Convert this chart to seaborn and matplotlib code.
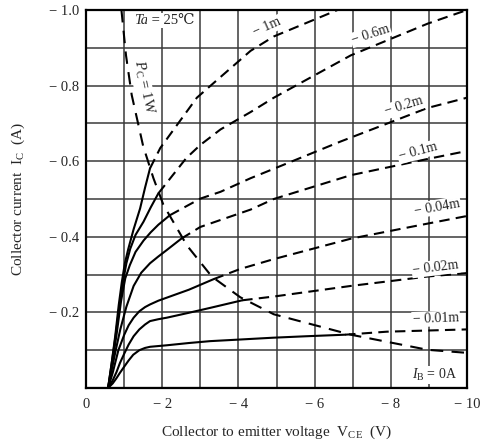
import numpy as np
import pandas as pd
import matplotlib
matplotlib.use("Agg")
import matplotlib.pyplot as plt
import seaborn as sns

# ---------------- data (magnitudes; axes are negative) -------------
curve_names = ["-0.01m", "-0.02m", "-0.04m", "-0.1m", "-0.2m", "-0.6m", "-1m"]

# solid part (below the Pc = 1 W curve)
solid_v = {
    "-0.01m": [0.58, 0.7, 0.8, 0.89, 1.0, 1.12, 1.24, 1.4, 1.55, 1.68, 1.9, 2.12, 2.7, 3.26, 4.0, 4.9, 5.8, 6.8],
    "-0.02m": [0.58, 0.7, 0.8, 0.89, 1.0, 1.12, 1.25, 1.4, 1.55, 1.68, 1.9, 2.12, 2.7, 3.26, 4.1],
    "-0.04m": [0.58, 0.7, 0.85, 1.0, 1.12, 1.25, 1.4, 1.55, 1.68, 1.9, 2.12, 2.7, 3.35],
    "-0.1m":  [0.58, 0.68, 0.78, 0.9, 1.06, 1.25, 1.45, 1.68, 1.9, 2.12, 2.5],
    "-0.2m":  [0.58, 0.68, 0.8, 0.92, 1.03, 1.15, 1.3, 1.51, 1.7, 1.9, 2.2],
    "-0.6m":  [0.58, 0.68, 0.78, 0.88, 0.97, 1.06, 1.16, 1.3, 1.51, 1.7, 1.9],
    "-1m":    [0.58, 0.68, 0.77, 0.86, 0.94, 1.02, 1.11, 1.25, 1.42, 1.55, 1.68],
}
solid_i = {
    "-0.01m": [0.0, 0.012, 0.026, 0.04, 0.056, 0.073, 0.088, 0.1, 0.106, 0.109, 0.111, 0.113, 0.119, 0.124, 0.128, 0.133, 0.137, 0.141],
    "-0.02m": [0.0, 0.02, 0.042, 0.066, 0.09, 0.115, 0.137, 0.155, 0.168, 0.177, 0.182, 0.186, 0.199, 0.212, 0.232],
    "-0.04m": [0.0, 0.04, 0.10, 0.14, 0.166, 0.186, 0.203, 0.214, 0.221, 0.231, 0.239, 0.26, 0.288],
    "-0.1m":  [0.0, 0.05, 0.1, 0.155, 0.215, 0.27, 0.305, 0.33, 0.348, 0.365, 0.395],
    "-0.2m":  [0.0, 0.06, 0.14, 0.23, 0.29, 0.325, 0.36, 0.39, 0.412, 0.432, 0.457],
    "-0.6m":  [0.0, 0.07, 0.14, 0.22, 0.28, 0.33, 0.368, 0.405, 0.44, 0.478, 0.515],
    "-1m":    [0.0, 0.07, 0.14, 0.22, 0.28, 0.33, 0.368, 0.42, 0.475, 0.53, 0.581],
}
# dashed part (beyond the Pc = 1 W curve)
dash_v = {
    "-0.01m": [6.8, 7.9, 10.0],
    "-0.02m": [4.1, 4.93, 6.95, 8.97, 10.0],
    "-0.04m": [3.35, 4.05, 4.93, 6.95, 8.97, 10.0],
    "-0.1m":  [2.5, 3.0, 4.32, 4.93, 6.95, 8.97, 10.0],
    "-0.2m":  [2.2, 3.0, 3.53, 4.32, 4.93, 6.68, 8.97, 10.0],
    "-0.6m":  [1.9, 2.63, 3.0, 3.53, 4.32, 4.93, 6.95, 8.97, 10.0],
    "-1m":    [1.68, 1.95, 2.91, 3.42, 4.32, 4.93, 6.6],
}
dash_i = {
    "-0.01m": [0.141, 0.149, 0.155],
    "-0.02m": [0.232, 0.242, 0.27, 0.295, 0.304],
    "-0.04m": [0.288, 0.315, 0.341, 0.395, 0.435, 0.455],
    "-0.1m":  [0.395, 0.426, 0.472, 0.50, 0.563, 0.606, 0.627],
    "-0.2m":  [0.457, 0.501, 0.519, 0.555, 0.58, 0.652, 0.741, 0.768],
    "-0.6m":  [0.515, 0.608, 0.643, 0.684, 0.73, 0.768, 0.88, 0.964, 1.0],
    "-1m":    [0.581, 0.635, 0.768, 0.813, 0.892, 0.93, 1.0],
}
# I_B = 0 line
ib0_v = [0.0, 10.0]
ib0_i = [0.0, 0.0]
# Pc = 1 W dissipation curve
pc_v = [0.93, 1.05, 1.2, 1.5, 1.77, 2.03, 2.65, 3.3, 4.05, 4.93, 6.95, 8.97, 10.0]
pc_i = [1.0, 0.88, 0.775, 0.64, 0.555, 0.485, 0.377, 0.295, 0.24, 0.195, 0.141, 0.101, 0.093]

x_ticks = [0, -2, -4, -6, -8, -10]
x_ticklabels = ["0", "− 2", "− 4", "− 6", "− 8", "− 10"]
y_ticks = [-0.2, -0.4, -0.6, -0.8, -1.0]
y_ticklabels = ["− 0.2", "− 0.4", "− 0.6", "− 0.8", "− 1.0"]

# ---------------- build long table ----------------
rows = []
for name in curve_names:
    for v, i in zip(solid_v[name], solid_i[name]):
        rows.append(dict(V=-v, I=-i, seg=name + "_s", kind="solid"))
    for v, i in zip(dash_v[name], dash_i[name]):
        rows.append(dict(V=-v, I=-i, seg=name + "_d", kind="dash"))
for v, i in zip(ib0_v, ib0_i):
    rows.append(dict(V=-v, I=-i, seg="ib0", kind="solid"))
for v, i in zip(pc_v, pc_i):
    rows.append(dict(V=-v, I=-i, seg="pc", kind="pc"))
df = pd.DataFrame(rows)

# ---------------- style ----------------
sns.set_style("white")
plt.rcParams["font.family"] = ["Liberation Serif", "DejaVu Serif", "DejaVu Sans"]
plt.rcParams["mathtext.fontset"] = "custom"
plt.rcParams["mathtext.rm"] = "Liberation Serif"
plt.rcParams["mathtext.it"] = "Liberation Serif:italic"

fig = plt.figure(figsize=(4.82, 4.43), dpi=100)
ax = fig.add_axes([86 / 482, 55 / 443, 381 / 482, 378 / 443])

sns.lineplot(data=df, x="V", y="I", units="seg", estimator=None, sort=False,
             style="kind", dashes={"solid": "", "dash": (5, 3), "pc": (6, 4)},
             color="black", linewidth=1.5, legend=False, ax=ax, zorder=3)

ax.set_xlim(0, -10)
ax.set_ylim(0, -1.0)
ax.set_xticks(x_ticks)
ax.set_xticklabels(x_ticklabels, fontsize=10.5)
ax.set_yticks(y_ticks)
ax.set_yticklabels(y_ticklabels, fontsize=10.5)
ax.set_xticks(np.arange(0, -10.5, -1), minor=True)
ax.set_yticks(np.arange(0, -1.05, -0.1), minor=True)
ax.grid(True, which="both", color="#3a3a3a", linewidth=1.1)
ax.set_axisbelow(True)
ax.tick_params(which="both", length=0)
ax.tick_params(axis="x", pad=7)
ax.tick_params(axis="y", pad=5)
for s in ax.spines.values():
    s.set_color("black")
    s.set_linewidth(1.6)

ax.set_xlabel("Collector to emitter voltage  V$_{\\rm CE}$  (V)", fontsize=11, labelpad=9)
ax.set_ylabel("Collector current  I$_{\\rm C}$  (A)", fontsize=11, labelpad=16)

box = dict(facecolor="white", edgecolor="none", pad=0.8)
label_pos = {
    "-1m": (-4.76, -0.955, 24),
    "-0.6m": (-7.47, -0.935, 18),
    "-0.2m": (-8.34, -0.745, 17),
    "-0.1m": (-8.71, -0.625, 15),
    "-0.04m": (-9.21, -0.478, 10),
    "-0.02m": (-9.18, -0.318, 7),
    "-0.01m": (-9.18, -0.183, 2),
}
for name in curve_names:
    x, y, r = label_pos[name]
    ax.text(x, y, name.replace("-", "− "), fontsize=10, rotation=r,
            ha="center", va="center", bbox=box, zorder=4)
ax.text(-9.16, -0.035, "$I_{\\rm B}$ = 0A", fontsize=10, ha="center", va="center",
        bbox=box, zorder=4)
ax.text(-1.62, -0.972, "Ta", fontstyle="italic", fontsize=10.5, ha="right", va="center",
        bbox=box, zorder=4)
ax.text(-1.62, -0.972, " = 25℃", fontsize=10.5, ha="left", va="center",
        bbox=box, zorder=4)
ax.text(-1.5, -0.795, "$P_{\\rm C}$ = 1W", fontsize=10.5, rotation=-78,
        ha="center", va="center", bbox=box, zorder=4)

fig.savefig("out.png", dpi=100)
